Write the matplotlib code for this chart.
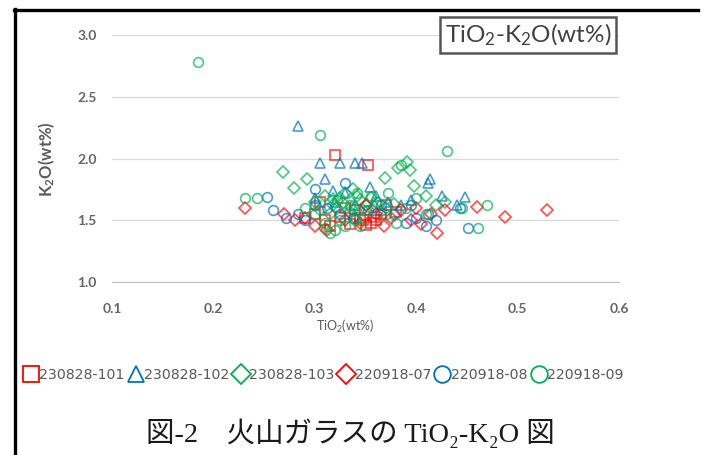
import matplotlib
matplotlib.use("Agg")
import matplotlib.pyplot as plt
from matplotlib.lines import Line2D

plt.rcParams['mathtext.default'] = 'regular'

# TiO2 (x) and K2O (y) in wt% for each sample
s101_x = [0.320, 0.352, 0.300, 0.310, 0.330, 0.345, 0.355, 0.360, 0.350, 0.365,
          0.340, 0.325, 0.370, 0.305, 0.335, 0.380, 0.290, 0.315, 0.358, 0.348]
s101_y = [2.03, 1.95, 1.55, 1.50, 1.60, 1.52, 1.48, 1.50, 1.46, 1.55,
          1.58, 1.53, 1.62, 1.65, 1.47, 1.57, 1.52, 1.45, 1.53, 1.50]

s102_x = [0.283, 0.305, 0.325, 0.340, 0.347, 0.414, 0.412, 0.448, 0.310, 0.318, 0.354,
          0.300, 0.330, 0.360, 0.372, 0.385, 0.395, 0.340, 0.320, 0.365, 0.425, 0.440]
s102_y = [2.26, 1.96, 1.96, 1.96, 1.96, 1.83, 1.80, 1.69, 1.83, 1.74, 1.77,
          1.68, 1.72, 1.70, 1.65, 1.62, 1.66, 1.62, 1.65, 1.58, 1.70, 1.62]

s103_x = [0.269, 0.279, 0.292, 0.300, 0.310, 0.318, 0.325, 0.330, 0.338, 0.345,
          0.350, 0.305, 0.315, 0.322, 0.335, 0.342, 0.355, 0.362, 0.370, 0.378,
          0.369, 0.382, 0.391, 0.394, 0.398, 0.410, 0.420, 0.428, 0.310, 0.340,
          0.328, 0.348, 0.358, 0.318, 0.336]
s103_y = [1.89, 1.76, 1.83, 1.65, 1.70, 1.62, 1.68, 1.72, 1.75, 1.66,
          1.62, 1.58, 1.55, 1.60, 1.57, 1.70, 1.68, 1.64, 1.60, 1.63,
          1.84, 1.92, 1.97, 1.91, 1.78, 1.70, 1.62, 1.65, 1.43, 1.52,
          1.64, 1.58, 1.61, 1.67, 1.60]

s07_x = [0.231, 0.270, 0.280, 0.290, 0.300, 0.312, 0.330, 0.345, 0.360, 0.375, 0.385,
         0.395, 0.405, 0.415, 0.421, 0.428, 0.460, 0.488, 0.529, 0.350, 0.368, 0.400]
s07_y = [1.60, 1.55, 1.50, 1.52, 1.45, 1.42, 1.50, 1.48, 1.55, 1.52, 1.58,
         1.50, 1.47, 1.55, 1.40, 1.58, 1.61, 1.53, 1.58, 1.62, 1.45, 1.60]

s08_x = [0.253, 0.259, 0.272, 0.283, 0.290, 0.300, 0.312, 0.325, 0.338, 0.352, 0.365,
         0.378, 0.390, 0.400, 0.410, 0.420, 0.451, 0.443, 0.300, 0.330, 0.395, 0.412]
s08_y = [1.69, 1.58, 1.52, 1.55, 1.50, 1.62, 1.60, 1.55, 1.52, 1.58, 1.62,
         1.55, 1.48, 1.52, 1.45, 1.50, 1.44, 1.60, 1.75, 1.80, 1.62, 1.55]

s09_x = [0.185, 0.231, 0.243, 0.305, 0.290, 0.300, 0.310, 0.320, 0.330, 0.340,
         0.350, 0.360, 0.370, 0.380, 0.390, 0.400, 0.410, 0.430, 0.461, 0.470,
         0.315, 0.325, 0.345, 0.335, 0.372, 0.385, 0.445, 0.355, 0.322, 0.342]
s09_y = [2.78, 1.68, 1.68, 2.19, 1.60, 1.55, 1.48, 1.42, 1.45, 1.50,
         1.58, 1.65, 1.55, 1.48, 1.60, 1.68, 1.55, 2.06, 1.44, 1.62,
         1.40, 1.50, 1.45, 1.62, 1.72, 1.95, 1.60, 1.70, 1.66, 1.72]

sample_names = ["230828-101", "230828-102", "230828-103",
                "220918-07", "220918-08", "220918-09"]

x_ticks = [0.1, 0.2, 0.3, 0.4, 0.5, 0.6]
y_ticks = [1.0, 1.5, 2.0, 2.5, 3.0]

RED, BLUE, GREEN = "#FF0000", "#0070C0", "#00B050"
series = [
    (s101_x, s101_y, "s", RED),
    (s102_x, s102_y, "^", BLUE),
    (s103_x, s103_y, "D", GREEN),
    (s07_x, s07_y, "D", RED),
    (s08_x, s08_y, "o", BLUE),
    (s09_x, s09_y, "o", GREEN),
]

fig = plt.figure(figsize=(7.05, 4.55), dpi=100)
ax = fig.add_axes([112 / 705, 1 - 282 / 455, (619 - 112) / 705, (282 - 35) / 455])

for (xs, ys, mk, col), name in zip(series, sample_names):
    ms = 6.0 if mk == "D" else 7.0
    ax.plot(xs, ys, linestyle="none", marker=mk, markersize=ms,
            markerfacecolor="none", markeredgecolor=col, markeredgewidth=1.2,
            alpha=0.7, label=name)

ax.set_xlim(0.1, 0.6)
ax.set_ylim(1.0, 3.0)
ax.set_xticks(x_ticks)
ax.set_yticks(y_ticks)
ax.set_xticklabels([f"{v:.1f}" for v in x_ticks])
ax.set_yticklabels([f"{v:.1f}" for v in y_ticks])
ax.grid(axis="y", color="#D9D9D9", linewidth=0.9)
ax.set_axisbelow(True)
for side in ("top", "right", "left"):
    ax.spines[side].set_visible(False)
ax.spines["bottom"].set_color("#BFBFBF")
ax.tick_params(axis="both", length=0, labelcolor="#666666", labelsize=10)
ax.tick_params(axis="x", pad=15)
ax.tick_params(axis="y", pad=11)
for lab in ax.get_xticklabels() + ax.get_yticklabels():
    lab.set_fontfamily("Lato")
    lab.set_fontweight("bold")

fig.text(345 / 705, 1 - 326 / 455, r"TiO$_2$(wt%)", ha="center", va="center",
         fontsize=9, color="#595959", family="Lato")
fig.text(47 / 705, 1 - 159 / 455, r"K$_2$O(wt%)", ha="center", va="center",
         rotation=90, fontsize=12, color="#595959", family="Lato", fontweight="bold")

ax.text(0.985, 1.0, r"TiO$_2$-K$_2$O(wt%)", transform=ax.transAxes,
        ha="right", va="center", fontsize=17.5, color="#404040", family="Lato",
        bbox=dict(boxstyle="square,pad=0.2", facecolor="white",
                  edgecolor="#555555", linewidth=1.8))

# Legend row below the plot
handles = []
for (xs, ys, mk, col), name in zip(series, sample_names):
    handles.append(Line2D([], [], linestyle="none", marker=mk,
                          markersize=10 if mk == "D" else 12,
                          markerfacecolor="none", markeredgecolor=col,
                          markeredgewidth=1.3, label=name))
leg = fig.legend(handles=handles, loc="center left", ncol=6,
                 bbox_to_anchor=(18 / 705, 1 - 375 / 455), frameon=False,
                 fontsize=10.2, handlelength=1.0, handletextpad=0.1,
                 columnspacing=0.3, borderaxespad=0)
for t in leg.get_texts():
    t.set_color("#595959")
    t.set_fontfamily("DejaVu Sans")

# Frame around the figure panel
fig.add_artist(Line2D([14 / 705, 698 / 705], [1 - 10 / 455, 1 - 10 / 455],
                      color="black", linewidth=2.4, transform=fig.transFigure))
fig.add_artist(Line2D([15 / 705, 15 / 705], [1 - 9 / 455, 0],
                      color="black", linewidth=2.4, transform=fig.transFigure))

fig.text(350 / 705, 1 - 433 / 455, "図-2　火山ガラスの TiO₂-K₂O 図",
         ha="center", va="center", fontsize=20.5,
         family=["Liberation Serif", "Noto Sans CJK JP"], color="#1a1a1a")

fig.savefig("out.png", dpi=100)
